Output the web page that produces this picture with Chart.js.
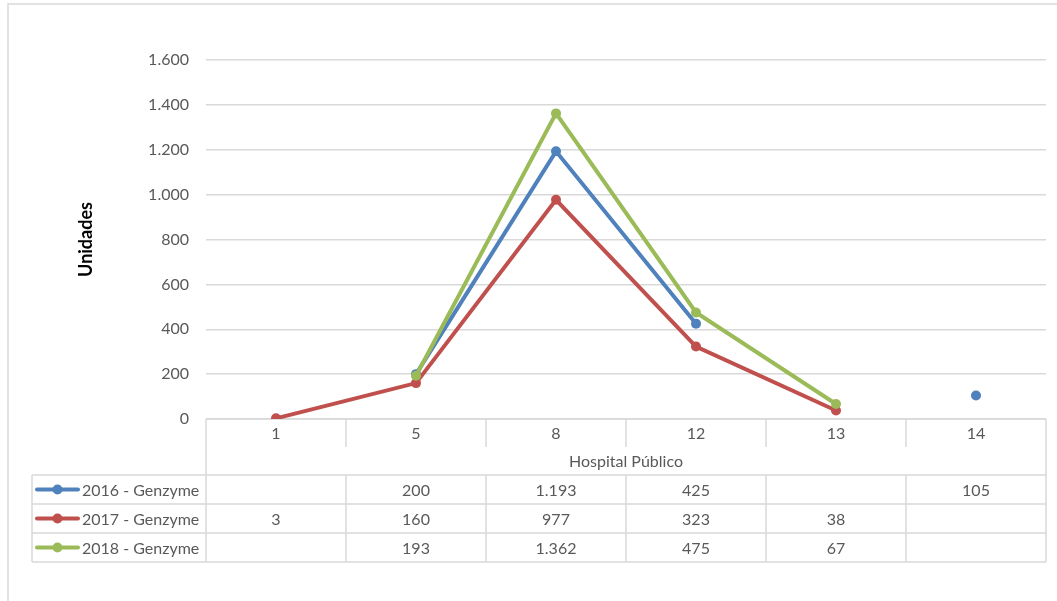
<!DOCTYPE html>
<html>
<head>
<meta charset="utf-8">
<script src="https://cdn.jsdelivr.net/npm/chart.js@4"></script>
<style>
  html, body { margin: 0; padding: 0; background: #fff; }
  #wrap { width: 1057px; height: 601px; position: relative; }
</style>
</head>
<body>
<div id="wrap"><canvas id="unidadesChart"></canvas></div>
<script>
const hospitales = ['1', '5', '8', '12', '13', '14'];
const serie2016 = [null, 200, 1193, 425, null, 105];
const serie2017 = [3, 160, 977, 323, 38, null];
const serie2018 = [null, 193, 1362, 475, 67, null];
const nombres = ['2016 - Genzyme', '2017 - Genzyme', '2018 - Genzyme'];
const colores = ['#4f81bd', '#c0504d', '#9bbb59'];

const fuente = 'Lato, "Open Sans", sans-serif';

function miles(v) {
  if (v === null || v === undefined) return '';
  return String(v).replace(/\B(?=(\d{3})+(?!\d))/g, '.');
}

// table under the plot, built from the x scale
const tablaDatos = {
  id: 'tablaDatos',
  beforeDraw(chart) {
    const c = chart.ctx;
    c.save();
    c.strokeStyle = '#d9d9d9';
    c.lineWidth = 1.5;
    c.strokeRect(8, 4, 1200, 800);
    c.restore();
  },
  beforeDatasetsDraw(chart) {
    const c = chart.ctx;
    const x = chart.scales.x;
    const area = chart.chartArea;
    const izq = area.left, der = area.right;
    const y0 = area.bottom;
    const paso = x.getPixelForValue(1) - x.getPixelForValue(0);
    const filaCat = y0 + 28;
    const filaTitulo = filaCat + 28;
    const alto = 29;
    const leyIzq = 32;
    const series = [serie2016, serie2017, serie2018];

    c.save();
    c.strokeStyle = '#d9d9d9';
    c.lineWidth = 1.5;
    c.beginPath();
    // axis line
    c.moveTo(izq, y0); c.lineTo(der, y0);
    // row lines
    for (let r = 0; r <= 3; r++) {
      c.moveTo(leyIzq, filaTitulo + r * alto);
      c.lineTo(der, filaTitulo + r * alto);
    }
    // outer verticals
    c.moveTo(izq, y0); c.lineTo(izq, filaTitulo + 3 * alto);
    c.moveTo(der, y0); c.lineTo(der, filaTitulo + 3 * alto);
    c.moveTo(leyIzq, filaTitulo); c.lineTo(leyIzq, filaTitulo + 3 * alto);
    // inner verticals
    for (let i = 1; i < hospitales.length; i++) {
      const xx = x.getPixelForValue(i) - paso / 2;
      c.moveTo(xx, y0); c.lineTo(xx, filaCat);
      c.moveTo(xx, filaTitulo); c.lineTo(xx, filaTitulo + 3 * alto);
    }
    c.stroke();

    c.font = '16px ' + fuente;
    c.fillStyle = '#595959';
    c.textAlign = 'center';
    c.textBaseline = 'middle';
    hospitales.forEach((h, i) => {
      c.fillText(h, x.getPixelForValue(i), y0 + 15);
    });
    c.fillText('Hospital Público', (izq + der) / 2, filaCat + 15);

    series.forEach((s, r) => {
      const yc = filaTitulo + r * alto + alto / 2 + 1;
      s.forEach((v, i) => {
        if (v !== null) c.fillText(miles(v), x.getPixelForValue(i), yc);
      });
      // legend key
      c.strokeStyle = colores[r];
      c.lineWidth = 4;
      c.lineCap = 'round';
      c.beginPath();
      c.moveTo(37, yc - 1); c.lineTo(78, yc - 1);
      c.stroke();
      c.fillStyle = colores[r];
      c.beginPath();
      c.arc(57.5, yc - 1, 5, 0, Math.PI * 2);
      c.fill();
      c.fillStyle = '#595959';
      c.textAlign = 'left';
      c.fillText(nombres[r], 82, yc);
      c.textAlign = 'center';
    });
    c.restore();
  }
};

const ctx = document.getElementById('unidadesChart').getContext('2d');

const datasets = [serie2016, serie2017, serie2018].map((s, i) => ({
  label: nombres[i],
  data: s,
  borderColor: colores[i],
  backgroundColor: colores[i],
  borderWidth: 4,
  pointRadius: 5,
  pointHoverRadius: 5,
  pointBorderWidth: 0,
  tension: 0,
  order: 3 - i
}));

new Chart(ctx, {
  type: 'line',
  data: { labels: hospitales, datasets: datasets },
  plugins: [tablaDatos],
  options: {
    responsive: true,
    maintainAspectRatio: false,
    animation: false,
    layout: { padding: { top: 60, right: 11, bottom: 182, left: 0 } },
    plugins: {
      legend: { display: false },
      tooltip: { enabled: false }
    },
    scales: {
      x: {
        display: false,
        offset: true
      },
      y: {
        min: 0,
        max: 1600,
        afterFit(scale) { scale.width = 206; },
        border: { display: false },
        grid: { color: '#d9d9d9', lineWidth: 1.5, drawTicks: false },
        ticks: {
          stepSize: 200,
          padding: 17,
          color: '#595959',
          font: { family: fuente, size: 16 },
          callback: (v) => miles(v)
        },
        title: {
          display: true,
          text: 'Unidades',
          color: '#000',
          font: { family: fuente, size: 18, weight: 'bold' },
          padding: { top: 75, bottom: 0 }
        }
      }
    }
  }
});
</script>
</body>
</html>
